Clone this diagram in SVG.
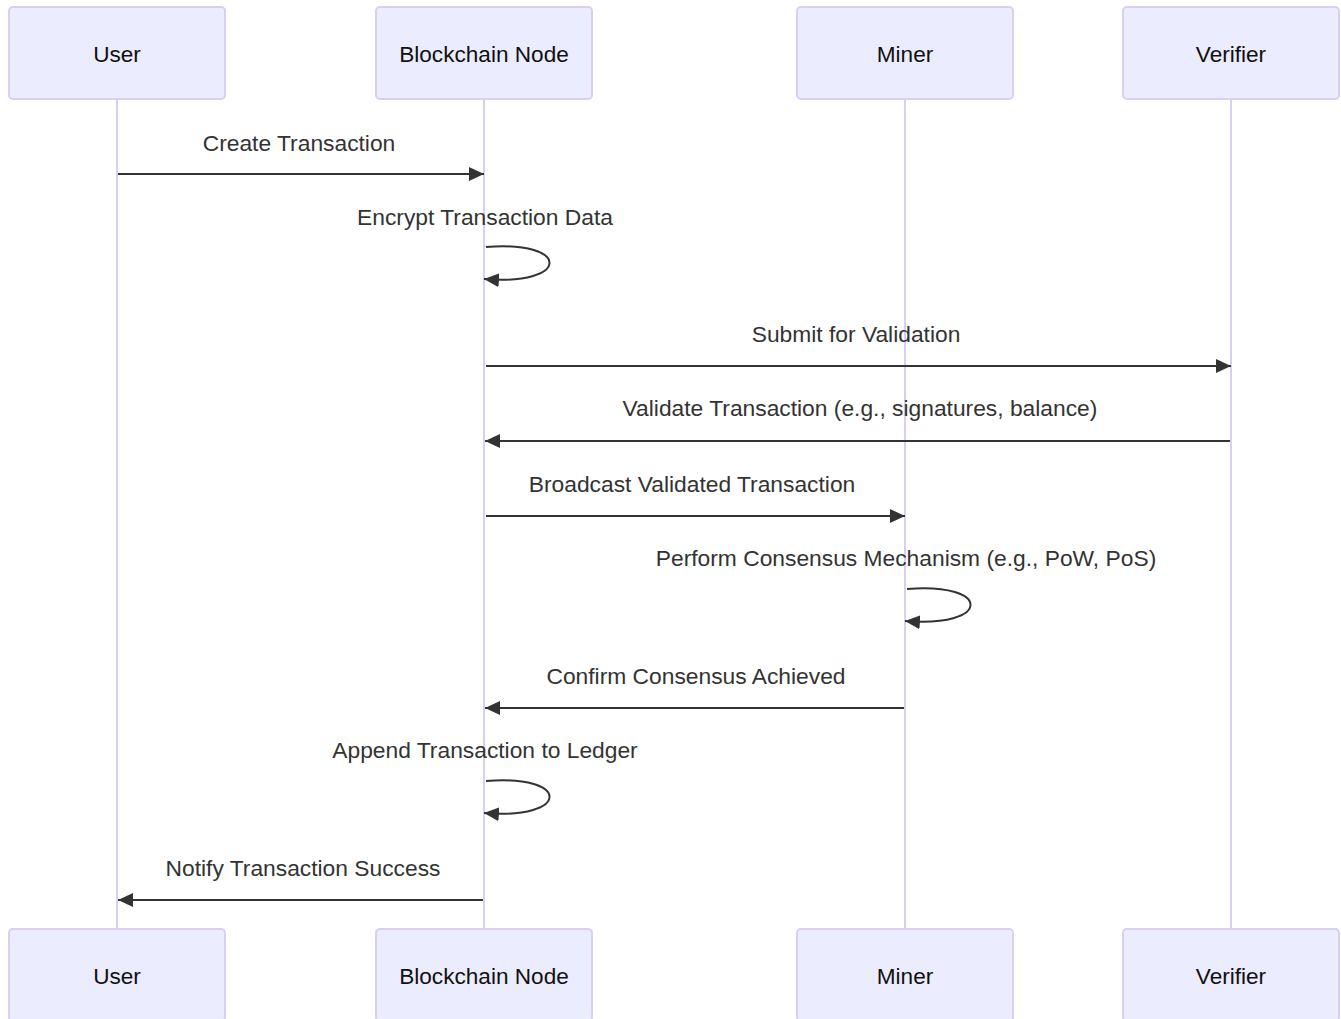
<svg xmlns="http://www.w3.org/2000/svg" width="1341" height="1019" viewBox="0 0 1341 1019">
<style>
.actor{fill:#ECECFF;stroke:#DACEF3;stroke-width:2}
.atext{font-family:"Liberation Sans",Arial,sans-serif;font-size:22.6px;fill:#111;text-anchor:middle}
.life{stroke:#DACEF3;stroke-width:2}
.msg{stroke:#333;stroke-width:2;fill:none}
.mtext{font-family:"Liberation Sans",Arial,sans-serif;font-size:22.8px;fill:#333;text-anchor:middle}
</style>
<defs>
<marker id="arrow" markerUnits="userSpaceOnUse" markerWidth="16" markerHeight="14" refX="15" refY="7" orient="auto">
<path d="M0,0 L15,7 L0,14 z" fill="#333"/>
</marker>
</defs>
<rect width="1341" height="1019" fill="#fff"/>
<g id="lifelines">
<line class="life" x1="117" y1="99" x2="117" y2="929"/>
<line class="life" x1="484" y1="99" x2="484" y2="929"/>
<line class="life" x1="905" y1="99" x2="905" y2="929"/>
<line class="life" x1="1231" y1="99" x2="1231" y2="929"/>
</g>
<g id="actor-user-top"><rect class="actor" x="9" y="7" width="216" height="92" rx="4"/><text class="atext" x="117" y="62">User</text></g>
<g id="actor-node-top"><rect class="actor" x="376" y="7" width="216" height="92" rx="4"/><text class="atext" x="484" y="62">Blockchain Node</text></g>
<g id="actor-miner-top"><rect class="actor" x="797" y="7" width="216" height="92" rx="4"/><text class="atext" x="905" y="62">Miner</text></g>
<g id="actor-verifier-top"><rect class="actor" x="1123" y="7" width="216" height="92" rx="4"/><text class="atext" x="1231" y="62">Verifier</text></g>
<g id="actor-user-bottom"><rect class="actor" x="9" y="929" width="216" height="92" rx="4"/><text class="atext" x="117" y="984">User</text></g>
<g id="actor-node-bottom"><rect class="actor" x="376" y="929" width="216" height="92" rx="4"/><text class="atext" x="484" y="984">Blockchain Node</text></g>
<g id="actor-miner-bottom"><rect class="actor" x="797" y="929" width="216" height="92" rx="4"/><text class="atext" x="905" y="984">Miner</text></g>
<g id="actor-verifier-bottom"><rect class="actor" x="1123" y="929" width="216" height="92" rx="4"/><text class="atext" x="1231" y="984">Verifier</text></g>
<g id="connectors">
<text class="mtext" x="299" y="151">Create Transaction</text>
<line class="msg" x1="118" y1="174" x2="484" y2="174" marker-end="url(#arrow)"/>
<text class="mtext" x="485" y="225">Encrypt Transaction Data</text>
<path class="msg" d="M486,247 C571,240 571,286 484,279" marker-end="url(#arrow)"/>
<text class="mtext" x="856" y="342">Submit for Validation</text>
<line class="msg" x1="486" y1="366" x2="1231" y2="366" marker-end="url(#arrow)"/>
<text class="mtext" x="860" y="416">Validate Transaction (e.g., signatures, balance)</text>
<line class="msg" x1="1230" y1="441" x2="485" y2="441" marker-end="url(#arrow)"/>
<text class="mtext" x="692" y="492">Broadcast Validated Transaction</text>
<line class="msg" x1="486" y1="516" x2="905" y2="516" marker-end="url(#arrow)"/>
<text class="mtext" x="906" y="566">Perform Consensus Mechanism (e.g., PoW, PoS)</text>
<path class="msg" d="M907,589 C992,582 992,628 905,621" marker-end="url(#arrow)"/>
<text class="mtext" x="696" y="684">Confirm Consensus Achieved</text>
<line class="msg" x1="904" y1="708" x2="485" y2="708" marker-end="url(#arrow)"/>
<text class="mtext" x="485" y="758">Append Transaction to Ledger</text>
<path class="msg" d="M486,781 C571,774 571,820 484,813" marker-end="url(#arrow)"/>
<text class="mtext" x="303" y="876">Notify Transaction Success</text>
<line class="msg" x1="483" y1="900" x2="118" y2="900" marker-end="url(#arrow)"/>
</g>
</svg>
